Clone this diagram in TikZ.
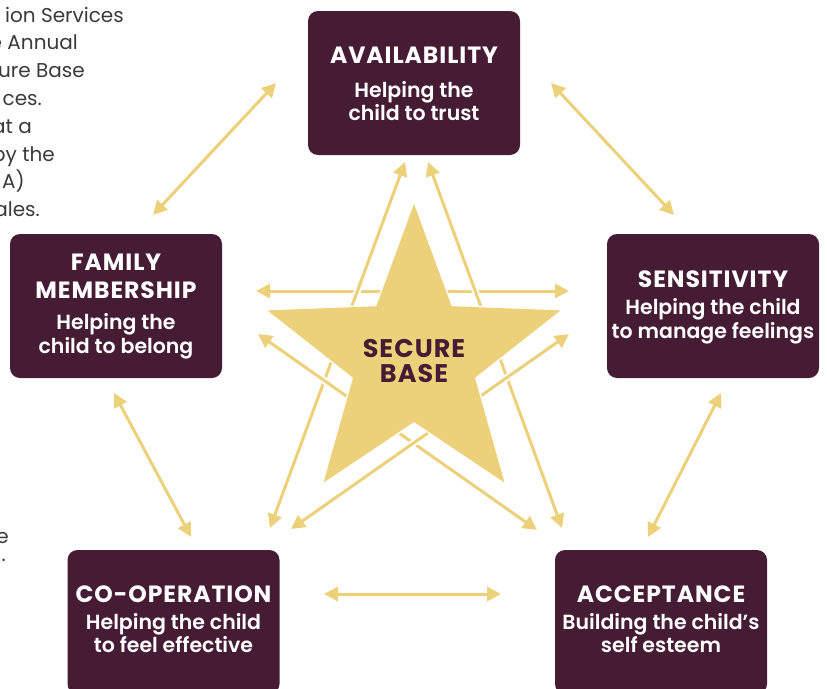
\documentclass[tikz,border=0pt]{standalone}
\usepackage{fontspec}
\setmainfont{Poppins}
\newfontfamily\titlefont[LetterSpace=4]{Poppins Bold}
\newfontfamily\subfont{Poppins SemiBold}
\usetikzlibrary{arrows.meta}
\definecolor{maroon}{HTML}{461C35}
\definecolor{gold}{HTML}{EDD07A}
\definecolor{txtgray}{HTML}{3A3A3A}
\begin{document}
\begin{tikzpicture}[x=1pt,y=-1pt,
 box/.style={fill=maroon, rounded corners=10pt, minimum width=212pt, minimum height=144pt, inner sep=0pt, draw=none},
 ttl/.style={anchor=base, text=white, font=\titlefont\fontsize{23.5}{28}\selectfont, inner sep=0pt},
 sub/.style={anchor=base, text=white, font=\subfont\fontsize{20.5}{24}\selectfont, inner sep=0pt},
 link/.style={gold, line width=3pt, {Triangle[length=14pt,width=14pt]}-{Triangle[length=14pt,width=14pt]}},
 casing/.style={preaction={draw=white, line width=7pt, arrows=-}},
 frag/.style={anchor=base east, text=txtgray, font=\fontsize{20}{24}\selectfont, inner sep=0pt}]
\useasboundingbox (0,0) rectangle (827,688);
\clip (0,0) rectangle (827,688);

% left page text fragments
\node[frag] (f1) at (124,22) {ion Services};
\node[frag] (f2) at (78,49.8) {e Annual};
\node[frag] (f3) at (85,77.6) {ure Base};
\node[frag] (f4) at (42,105.4) {ces.};
\node[frag] (f5) at (32,133.2) {at a};
\node[frag] (f6) at (55,161) {by the};
\node[frag] (f7) at (25,188.8) {A)};
\node[frag] (f8) at (40,216.6) {ales.};
\node[frag] (f9) at (9,543) {e};
\node[frag] (f10) at (6,561) {.};

% boxes
\node[box] (avail) at (414,83) {};
\node[box] (family) at (116,306) {};
\node[box] (sens) at (713,306) {};
\node[box] (coop) at (173.5,622) {};
\node[box] (acc) at (661,622) {};

% box texts
\node[ttl] (availT) at (414,63) {AVAILABILITY};
\node[sub] (availS1) at (414,97) {Helping the};
\node[sub] (availS2) at (414,120) {child to trust};

\node[ttl] (famT1) at (116,270) {FAMILY};
\node[ttl] (famT2) at (116,298) {MEMBERSHIP};
\node[sub] (famS1) at (116,329) {Helping the};
\node[sub] (famS2) at (116,353) {child to belong};

\node[ttl] (sensT) at (713,287) {SENSITIVITY};
\node[sub] (sensS1) at (713,314) {Helping the child};
\node[sub] (sensS2) at (713,338) {to manage feelings};

\node[ttl] (coopT) at (173.5,602) {CO-OPERATION};
\node[sub] (coopS1) at (173.5,629) {Helping the child};
\node[sub] (coopS2) at (173.5,652) {to feel effective};

\node[ttl] (accT) at (661,602) {ACCEPTANCE};
\node[sub] (accS1) at (661,629) {Building the child’s};
\node[sub] (accS2) at (661,652) {self esteem};

% outer arrow ends
\coordinate (aF) at (276,83);
\coordinate (fA) at (153,215);
\coordinate (aS) at (551,83);
\coordinate (sA) at (674,215);
\coordinate (fC) at (114,393);
\coordinate (cF) at (191,537);
\coordinate (sK) at (721,393);
\coordinate (kS) at (648,537);
\coordinate (cK) at (324,594);
\coordinate (kC) at (501,594);

\draw[link] (aF) -- (fA);
\draw[link] (aS) -- (sA);
\draw[link] (fC) -- (cF);
\draw[link] (sK) -- (kS);
\draw[link] (cK) -- (kC);

% inner arrow ends
\coordinate (hL) at (256,291);
\coordinate (hR) at (569,291);
\coordinate (tL) at (405,162);
\coordinate (bL) at (270,528);
\coordinate (tR) at (428,162);
\coordinate (bR) at (562,528);
\coordinate (mL) at (258,334);
\coordinate (dR) at (537,530);
\coordinate (mR) at (569,334);
\coordinate (dL) at (291,529);

\draw[link,casing] (hL) -- (hR);
\draw[link,casing] (tL) -- (bL);
\draw[link,casing] (tR) -- (bR);
\draw[link,casing] (mL) -- (dR);
\draw[link,casing] (mR) -- (dL);

% star
\fill[gold, draw=white, line width=3pt, line join=miter]
 (414,204) -- (451.6,306.2) -- (560.5,310.4) -- (474.9,377.8) -- (504.5,482.6)
 -- (414,422) -- (323.5,482.6) -- (353.1,377.8) -- (267.5,310.4) -- (376.4,306.2) -- cycle;
\fill[gold]
 (414,204) -- (451.6,306.2) -- (560.5,310.4) -- (474.9,377.8) -- (504.5,482.6)
 -- (414,422) -- (323.5,482.6) -- (353.1,377.8) -- (267.5,310.4) -- (376.4,306.2) -- cycle;

\node[anchor=base, text=maroon, font=\titlefont\fontsize{25.5}{30}\selectfont, inner sep=0pt] (sec1) at (414,357) {SECURE};
\node[anchor=base, text=maroon, font=\titlefont\fontsize{25.5}{30}\selectfont, inner sep=0pt] (sec2) at (414,382) {BASE};
\end{tikzpicture}
\end{document}
